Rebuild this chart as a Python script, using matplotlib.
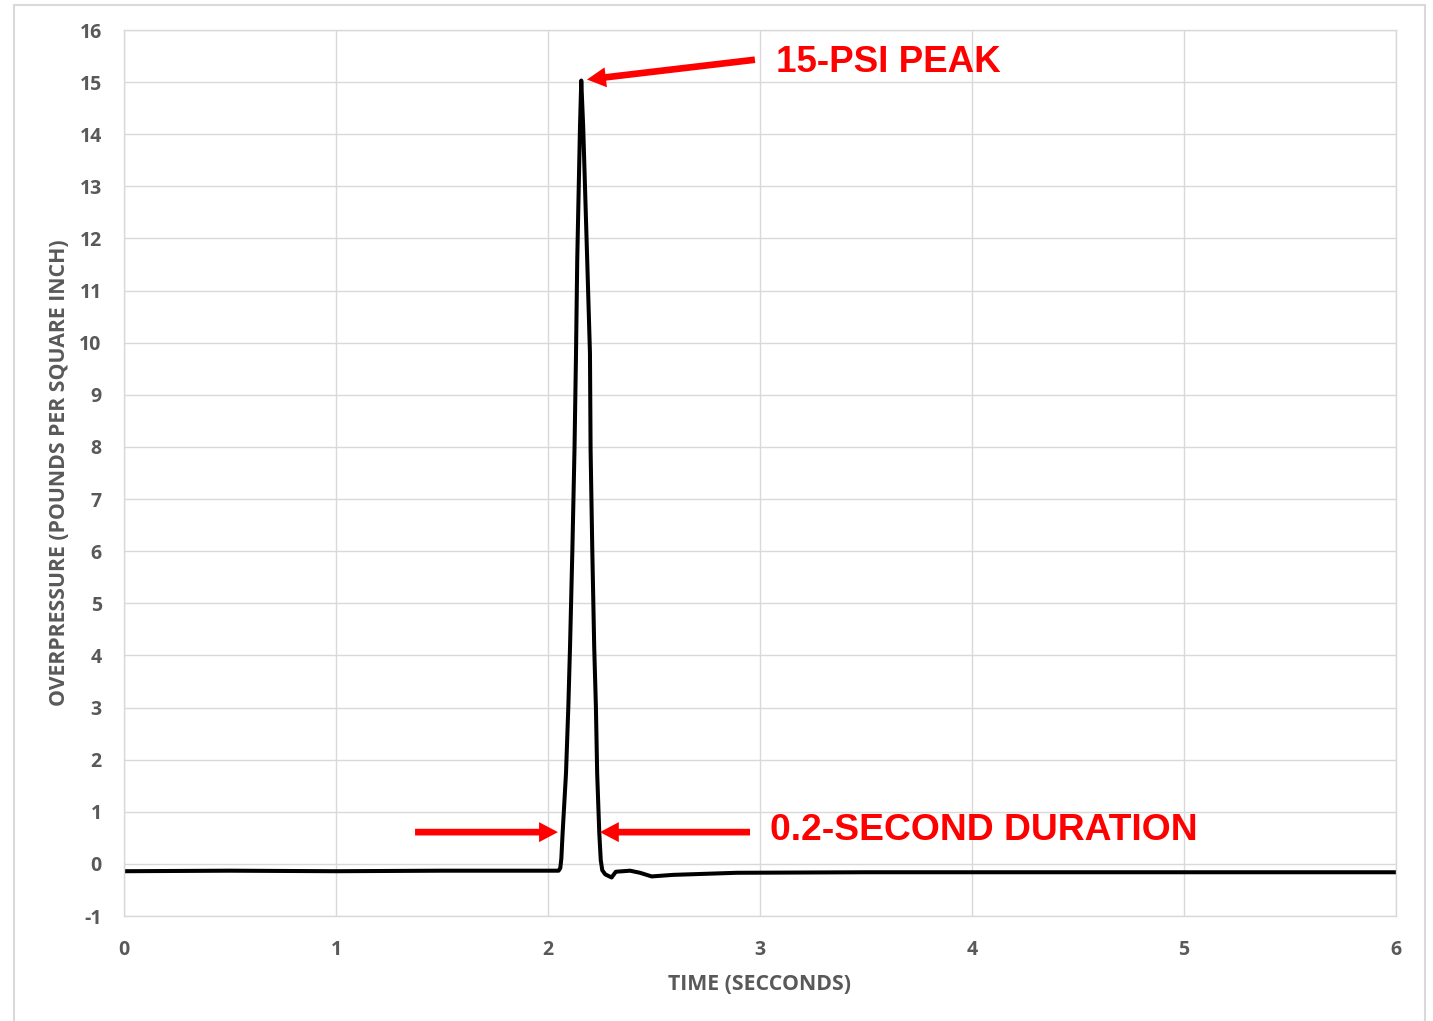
import matplotlib
matplotlib.use('Agg')
import matplotlib.pyplot as plt
from matplotlib.patches import Rectangle

plt.rcParams['axes.unicode_minus'] = False

# pressure trace (seconds, psi)
time_s = [0.0, 0.5, 1.0, 1.5, 2.0, 2.05, 2.058, 2.063, 2.069, 2.085, 2.096,
          2.104, 2.115, 2.125, 2.132, 2.138, 2.151, 2.157, 2.166, 2.185,
          2.198, 2.201, 2.209, 2.218, 2.226, 2.232, 2.242, 2.249, 2.256,
          2.27, 2.30, 2.32, 2.387, 2.434, 2.489, 2.59, 2.89, 3.5, 4.0,
          4.5, 5.0, 5.5, 6.0]
pressure = [-0.14, -0.13, -0.14, -0.13, -0.13, -0.13, -0.08, 0.10, 0.59,
            1.74, 3.02, 4.17, 6.02, 7.94, 9.73, 11.59, 14.15, 15.03, 14.15,
            11.59, 9.80, 7.94, 6.02, 4.17, 3.02, 1.74, 0.59, 0.07, -0.12,
            -0.20, -0.26, -0.15, -0.13, -0.17, -0.24, -0.21, -0.17, -0.16,
            -0.16, -0.16, -0.16, -0.16, -0.16]

x_ticks = [0, 1, 2, 3, 4, 5, 6]
y_ticks = list(range(-1, 17))

peak_label = '15-PSI PEAK'
duration_label = '0.2-SECOND DURATION'

grey = '#595959'
gridc = '#d9d9d9'
lblfont = 'Open Sans'

fig = plt.figure(figsize=(14.33, 10.21), dpi=100)
ax = fig.add_axes([0.0865, 0.1028, 0.8877, 0.8678])

ax.plot(time_s, pressure, color='black', lw=2.9, solid_joinstyle='round')

ax.set_xlim(0, 6)
ax.set_ylim(-1, 16)
ax.set_xticks(x_ticks)
ax.set_yticks(y_ticks)
ax.grid(True, color=gridc, lw=1.0)
ax.set_axisbelow(True)
for s in ax.spines.values():
    s.set_color(gridc)
    s.set_linewidth(1.0)
ax.tick_params(length=0, labelsize=14, labelcolor=grey)
ax.tick_params(axis='x', pad=17)
ax.tick_params(axis='y', pad=16)
for lab in ax.get_xticklabels() + ax.get_yticklabels():
    lab.set_fontfamily(lblfont)
    lab.set_fontweight('bold')

ax.set_xlabel('TIME (SECCONDS)', fontsize=15.3, fontweight='bold', color=grey,
              family=lblfont, labelpad=10)
ax.set_ylabel('OVERPRESSURE (POUNDS PER SQUARE INCH)', fontsize=15.3,
              fontweight='bold', color=grey, family=lblfont, labelpad=7)

# red call-outs
arrow = dict(arrowstyle='simple,head_length=0.68,head_width=0.72,tail_width=0.24',
             fc='red', ec='none', mutation_scale=20, shrinkA=0, shrinkB=0)
ax.annotate('', xy=(2.184, 15.05), xytext=(2.976, 15.43), arrowprops=arrow)
ax.annotate('', xy=(2.047, 0.61), xytext=(1.373, 0.61), arrowprops=arrow)
ax.annotate('', xy=(2.245, 0.61), xytext=(2.953, 0.61), arrowprops=arrow)

ax.text(3.075, 15.37, peak_label, color='red', fontsize=26.5, fontweight='bold',
        family='Liberation Sans', va='center', ha='left')
ax.text(3.047, 0.64, duration_label, color='red', fontsize=26.8,
        fontweight='bold', family='Liberation Sans', va='center', ha='left')

# light frame round the whole chart
fig.patches.append(Rectangle((14 / 1433, -0.02), 1411 / 1433, 1.0 - 5 / 1021 + 0.02,
                             transform=fig.transFigure, fill=False,
                             ec=gridc, lw=1.5))

fig.savefig('out.png', dpi=100)
